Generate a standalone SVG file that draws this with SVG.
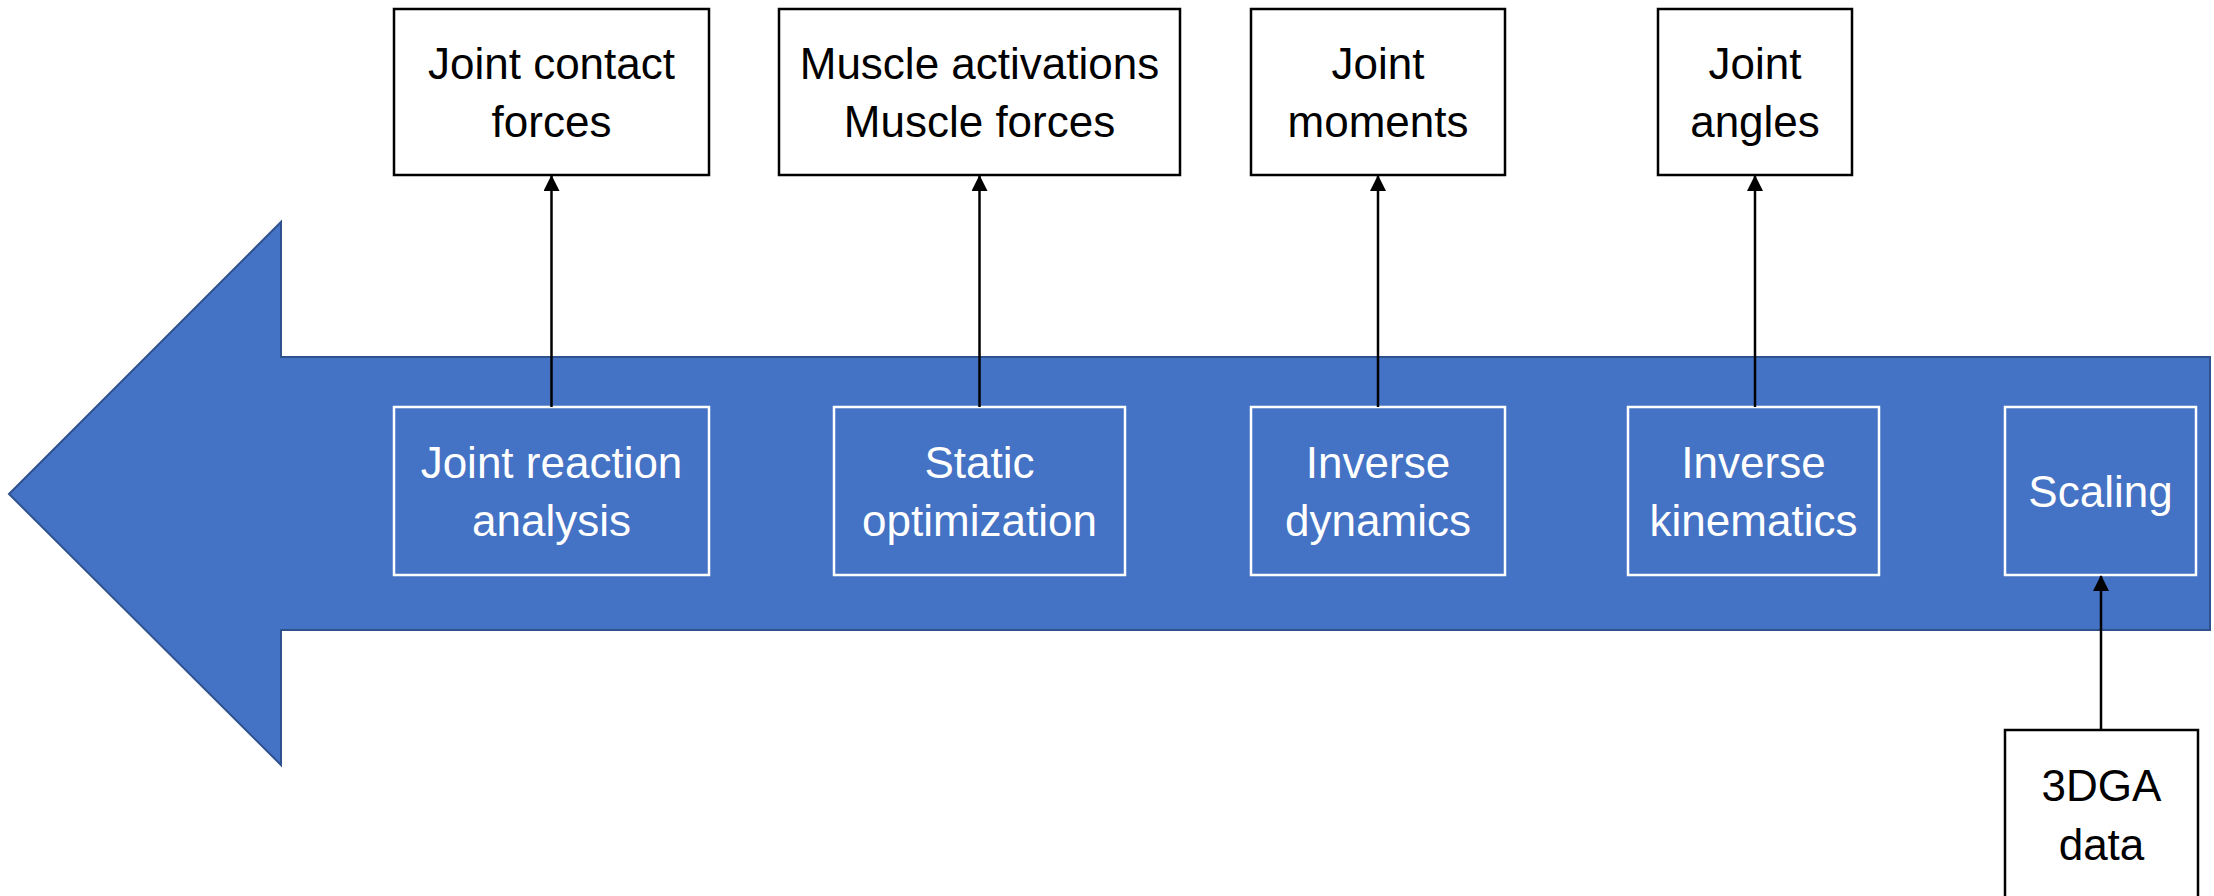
<svg xmlns="http://www.w3.org/2000/svg" width="2214" height="896" viewBox="0 0 2214 896">
  <style>
    .step { fill: none; stroke: #ffffff; stroke-width: 2.5; }
    .out { fill: #ffffff; stroke: #000000; stroke-width: 2.5; }
    .lbl { font-family: "Liberation Sans", Arial, sans-serif; font-size: 44px; text-anchor: middle; }
    .dark { fill: #000000; }
    .light { fill: #ffffff; }
    .link { stroke: #000000; stroke-width: 2.5; fill: none; marker-end: url(#head); }
  </style>
  <defs>
    <marker id="head" markerUnits="userSpaceOnUse" markerWidth="16" markerHeight="18" refX="15" refY="8" orient="auto">
      <path d="M0,0 L16,8 L0,16 Z" fill="#000000"/>
    </marker>
  </defs>
  <rect width="2214" height="896" fill="#ffffff"/>

  <!-- pipeline backbone: large left-pointing block arrow -->
  <g id="backbone">
    <path d="M9,494 L281,222 L281,357 L2210,357 L2210,630 L281,630 L281,765 Z" fill="#4472C4" stroke="#2F528F" stroke-width="2"/>
  </g>

  <!-- processing steps -->
  <g id="joint-reaction">
    <rect class="step" x="394" y="407" width="315" height="168"/>
    <text class="lbl light" x="551.5" y="478">Joint reaction</text>
    <text class="lbl light" x="551.5" y="536">analysis</text>
  </g>
  <g id="static-optimization">
    <rect class="step" x="834" y="407" width="291" height="168"/>
    <text class="lbl light" x="979.5" y="478">Static</text>
    <text class="lbl light" x="979.5" y="536">optimization</text>
  </g>
  <g id="inverse-dynamics">
    <rect class="step" x="1251" y="407" width="254" height="168"/>
    <text class="lbl light" x="1378" y="478">Inverse</text>
    <text class="lbl light" x="1378" y="536">dynamics</text>
  </g>
  <g id="inverse-kinematics">
    <rect class="step" x="1628" y="407" width="251" height="168"/>
    <text class="lbl light" x="1753.5" y="478">Inverse</text>
    <text class="lbl light" x="1753.5" y="536">kinematics</text>
  </g>
  <g id="scaling">
    <rect class="step" x="2005" y="407" width="191" height="168"/>
    <text class="lbl light" x="2100.5" y="507">Scaling</text>
  </g>

  <!-- outputs -->
  <g id="joint-contact-forces">
    <rect class="out" x="394" y="9" width="315" height="166"/>
    <text class="lbl dark" x="551.5" y="79">Joint contact</text>
    <text class="lbl dark" x="551.5" y="137">forces</text>
  </g>
  <g id="muscle-outputs">
    <rect class="out" x="779" y="9" width="401" height="166"/>
    <text class="lbl dark" x="979.5" y="79">Muscle activations</text>
    <text class="lbl dark" x="979.5" y="137">Muscle forces</text>
  </g>
  <g id="joint-moments">
    <rect class="out" x="1251" y="9" width="254" height="166"/>
    <text class="lbl dark" x="1378" y="79">Joint</text>
    <text class="lbl dark" x="1378" y="137">moments</text>
  </g>
  <g id="joint-angles">
    <rect class="out" x="1658" y="9" width="194" height="166"/>
    <text class="lbl dark" x="1755" y="79">Joint</text>
    <text class="lbl dark" x="1755" y="137">angles</text>
  </g>

  <!-- input -->
  <g id="gait-data">
    <rect class="out" x="2005" y="730" width="193" height="180"/>
    <text class="lbl dark" x="2101.5" y="801">3DGA</text>
    <text class="lbl dark" x="2101.5" y="860">data</text>
  </g>

  <!-- connectors -->
  <g id="connectors">
    <line class="link" x1="551.5" y1="407" x2="551.5" y2="176"/>
    <line class="link" x1="979.5" y1="407" x2="979.5" y2="176"/>
    <line class="link" x1="1378" y1="407" x2="1378" y2="176"/>
    <line class="link" x1="1755" y1="407" x2="1755" y2="176"/>
    <line class="link" x1="2101" y1="730" x2="2101" y2="576"/>
  </g>
</svg>
